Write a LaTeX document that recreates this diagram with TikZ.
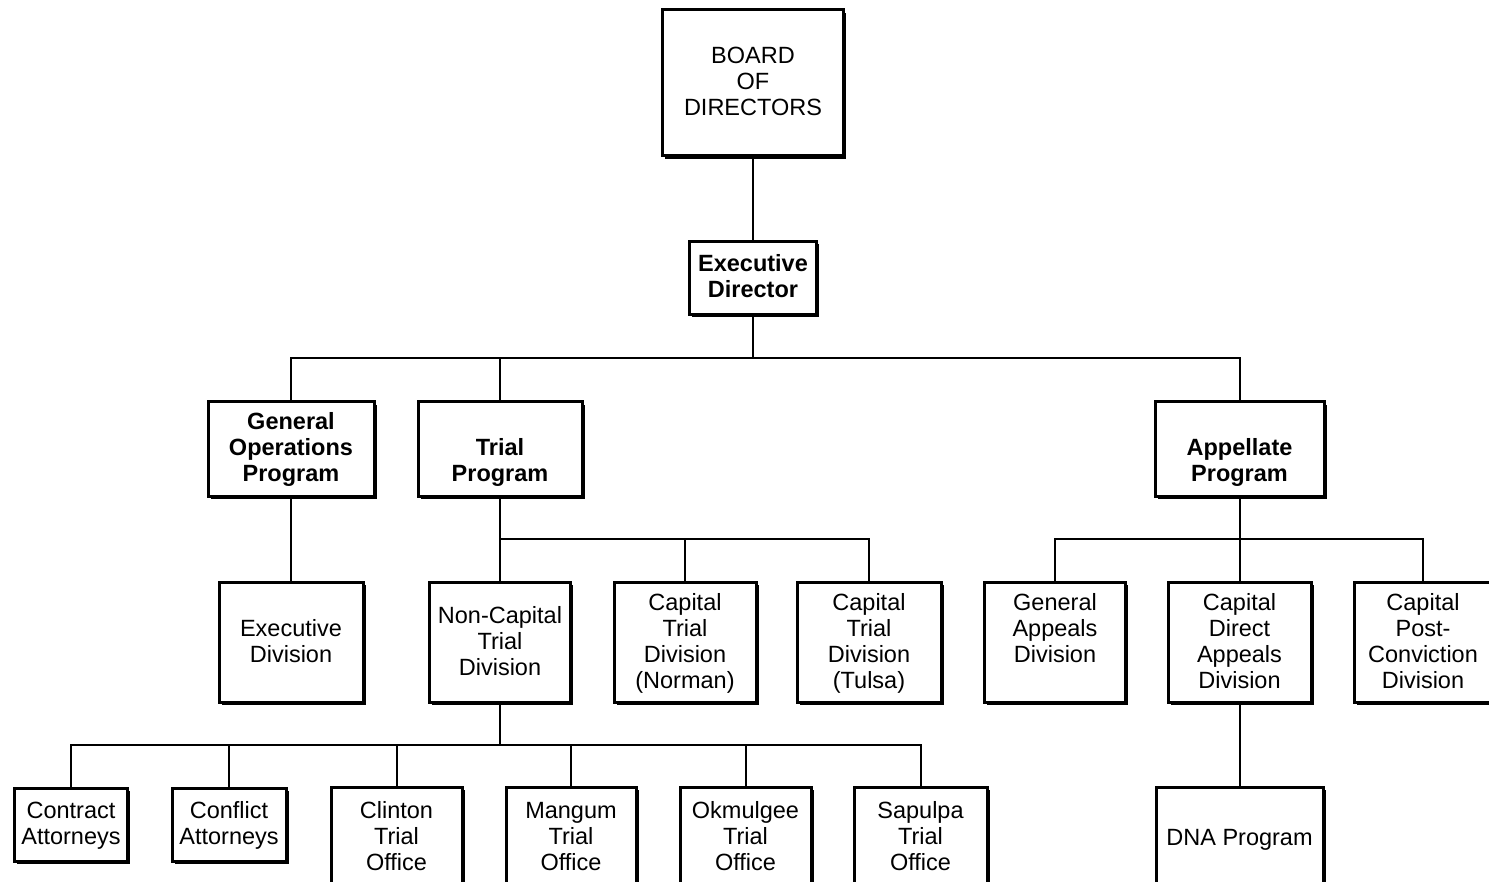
\documentclass[tikz,border=0pt]{standalone}
\usepackage{fontspec}
\setmainfont{Liberation Sans}
\usetikzlibrary{shadows}
\newcommand\ocstrut{\rule[-6pt]{0pt}{26pt}}
\begin{document}
\begin{tikzpicture}[x=1pt,y=-1pt,
  box/.style={draw=black, line width=3pt, fill=white, align=center, inner sep=0pt,
    font=\fontsize{23.5}{26}\selectfont,
    drop shadow={shadow xshift=2.6pt, shadow yshift=-2.6pt, fill=black, opacity=1}},
  bbox/.style={box, font=\fontsize{23.5}{26}\selectfont\bfseries},
  conn/.style={line width=2pt}]
\useasboundingbox (0,0) rectangle (1489,882);
\clip (0,0) rectangle (1489,882);
\fill[white] (0,0) rectangle (1489,882);

% level 0/1
\node[box, minimum width=181pt, minimum height=146pt] (board) at (753,83) {\ocstrut BOARD\\OF\\DIRECTORS\ocstrut};
\node[bbox, minimum width=127pt, minimum height=73pt] (exec) at (753,278) {\ocstrut Executive\\Director\ocstrut};

% level 2
\node[bbox, minimum width=166pt, minimum height=94pt] (genops) at (291,449) {\ocstrut General\\Operations\\Program\ocstrut};
\node[bbox, minimum width=164pt, minimum height=94pt] (trial) at (500,449) {\ocstrut\\Trial\\Program\ocstrut};
\node[bbox, minimum width=169pt, minimum height=94pt] (appellate) at (1239.5,449) {\ocstrut\\Appellate\\Program\ocstrut};

% level 3
\node[box, minimum width=144pt, minimum height=120pt] (execdiv) at (291,642) {\ocstrut Executive\\Division\ocstrut};
\node[box, minimum width=141pt, minimum height=120pt] (noncap) at (500,642) {\ocstrut Non-Capital\\Trial\\Division\ocstrut};
\node[box, minimum width=142pt, minimum height=120pt] (norman) at (685,642) {\ocstrut Capital\\Trial\\Division\\(Norman)\ocstrut};
\node[box, minimum width=144pt, minimum height=120pt] (tulsa) at (869,642) {\ocstrut Capital\\Trial\\Division\\(Tulsa)\ocstrut};
\node[box, minimum width=141pt, minimum height=120pt] (genappeals) at (1055,642) {\ocstrut General\\Appeals\\Division\\\ocstrut};
\node[box, minimum width=143pt, minimum height=120pt] (capdirect) at (1239.5,642) {\ocstrut Capital\\Direct\\Appeals\\Division\ocstrut};
\node[box, minimum width=138pt, minimum height=120pt] (postconv) at (1423,642) {\ocstrut Capital\\Post-\\Conviction\\Division\ocstrut};

% level 4
\node[box, minimum width=113pt, minimum height=73pt] (contract) at (71,824.5) {\ocstrut Contract\\Attorneys\ocstrut};
\node[box, minimum width=114pt, minimum height=73pt] (conflict) at (229,824.5) {\ocstrut Conflict\\Attorneys\ocstrut};
\node[box, minimum width=131pt, minimum height=100pt] (clinton) at (396.5,837) {\ocstrut Clinton\\Trial\\Office\ocstrut};
\node[box, minimum width=130pt, minimum height=100pt] (mangum) at (571,837) {\ocstrut Mangum\\Trial\\Office\ocstrut};
\node[box, minimum width=131pt, minimum height=100pt] (okmulgee) at (745.5,837) {\ocstrut Okmulgee\\Trial\\Office\ocstrut};
\node[box, minimum width=133pt, minimum height=100pt] (sapulpa) at (920.5,837) {\ocstrut Sapulpa\\Trial\\Office\ocstrut};
\node[box, minimum width=167pt, minimum height=102pt] (dna) at (1239.5,838) {\ocstrut DNA Program\ocstrut};

% bus levels
\coordinate (busA) at (0,358.5);
\coordinate (busB) at (0,539);
\coordinate (busC) at (0,745);

% connectors
\draw[conn] (board.south) -- (exec.north);
\draw[conn] (exec.south) -- (exec.south |- busA);
\draw[conn] (genops.north) |- (appellate.north |- busA) -- (appellate.north);
\draw[conn] (trial.north) -- (trial.north |- busA);

\draw[conn] (genops.south) -- (execdiv.north);

\draw[conn] (trial.south) -- (noncap.north);
\draw[conn] (trial.south |- busB) -| (tulsa.north);
\draw[conn] (norman.north) -- (norman.north |- busB);

\draw[conn] (appellate.south) -- (capdirect.north);
\draw[conn] (genappeals.north) |- (postconv.north |- busB) -- (postconv.north);

\draw[conn] (capdirect.south) -- (dna.north);

\draw[conn] (noncap.south) -- (noncap.south |- busC);
\draw[conn] (contract.north) |- (sapulpa.north |- busC) -- (sapulpa.north);
\draw[conn] (conflict.north) -- (conflict.north |- busC);
\draw[conn] (clinton.north) -- (clinton.north |- busC);
\draw[conn] (mangum.north) -- (mangum.north |- busC);
\draw[conn] (okmulgee.north) -- (okmulgee.north |- busC);
\end{tikzpicture}
\end{document}
